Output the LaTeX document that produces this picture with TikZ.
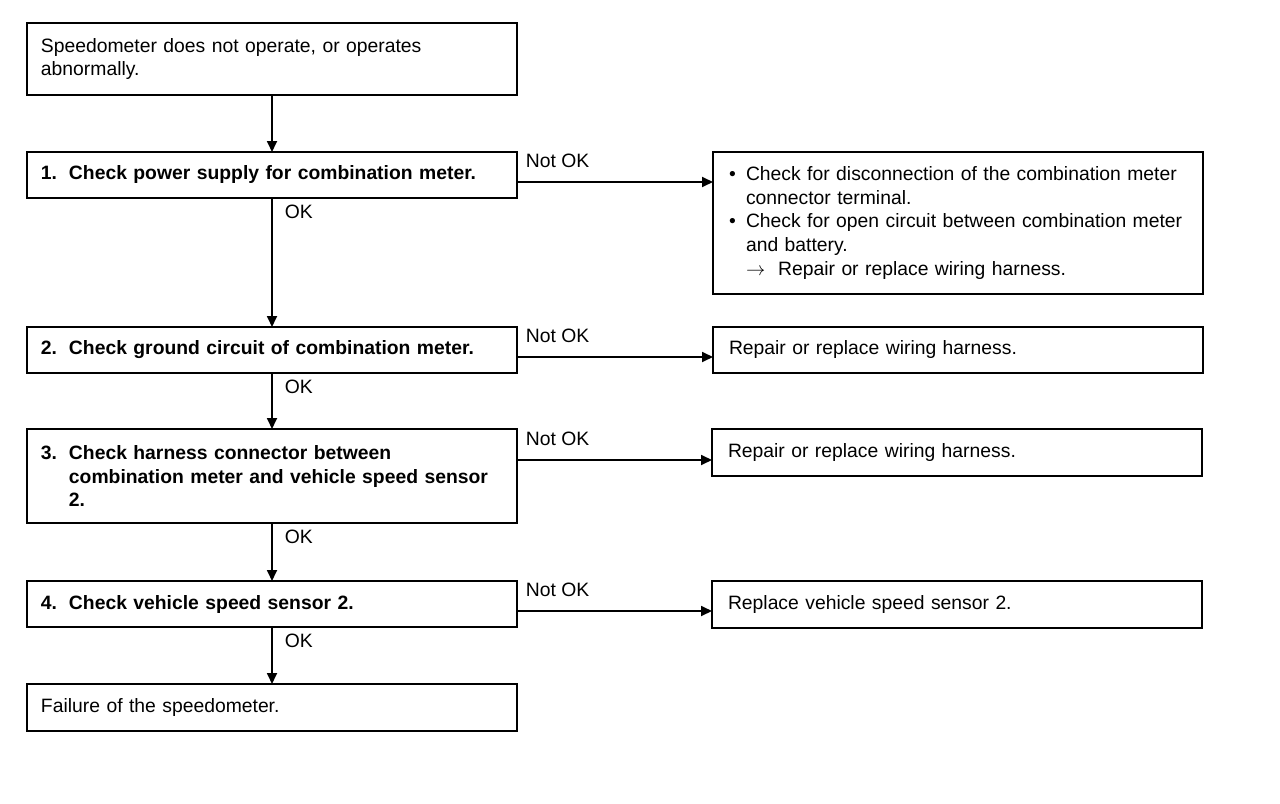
\documentclass[tikz,border=0pt]{standalone}
\usepackage{fontspec}
\setmainfont{Liberation Sans}
\usetikzlibrary{positioning, arrows.meta}
\tikzset{
  stepbox/.style={rectangle, draw, line width=1.1pt, outer sep=0pt, minimum width=9.8cm, text width=9.24cm, inner xsep=0.28cm, inner ysep=0pt, align=left, font=\fontsize{11}{13.6}\selectfont},
  fixbox/.style={stepbox, inner xsep=0.32cm, text width=9.16cm},
  arrow/.style={-{Triangle[length=0.22cm, width=0.2cm]}, line width=1pt},
}
\newcommand{\stepnum}[1]{\makebox[0.56cm][l]{#1}}
\newcommand{\fixitem}{\makebox[0.34cm][l]{\textbullet}}

\begin{document}
\begin{tikzpicture}[node distance=1.14cm, font=\fontsize{11}{13.6}\selectfont]
  \tikzset{
    oklabel/.style={anchor=north west, inner sep=0pt, xshift=0.24cm, yshift=-0.12cm},
    nolabel/.style={anchor=south west, inner sep=0pt, xshift=0.16cm, yshift=0.26cm},
  }
  \useasboundingbox (0,0) rectangle (25.6,-16.08);

  % Left column
  \node[stepbox, minimum height=1.44cm, anchor=north west] (start) at (0.54,-0.46) {Speedometer does not operate, or operates\\abnormally.};
  \node[stepbox, minimum height=0.92cm, below=of start, font=\fontsize{11}{13.6}\selectfont\bfseries] (chk1) {\stepnum{1.}Check power supply for combination meter.};
  \node[stepbox, minimum height=0.92cm, below=2.58cm of chk1, font=\fontsize{11}{13.6}\selectfont\bfseries] (chk2) {\stepnum{2.}Check ground circuit of combination meter.};
  \node[stepbox, minimum height=1.88cm, below=1.12cm of chk2, font=\fontsize{11}{13.6}\selectfont\bfseries] (chk3) {\stepnum{3.}Check harness connector between\\\hspace*{0.56cm}combination meter and vehicle speed sensor\\\hspace*{0.56cm}2.};
  \node[stepbox, minimum height=0.92cm, below=1.16cm of chk3, font=\fontsize{11}{13.6}\selectfont\bfseries] (chk4) {\stepnum{4.}Check vehicle speed sensor 2.};
  \node[stepbox, minimum height=0.94cm, below=of chk4] (fail) {Failure of the speedometer.};

  % Right column
  \node[fixbox, minimum height=2.84cm, right=3.92cm of chk1.north east, anchor=north west] (fix1) {\fixitem Check for disconnection of the combination meter\\\hspace*{0.34cm}connector terminal.\\\fixitem Check for open circuit between combination meter\\\hspace*{0.34cm}and battery.\\\hspace*{0.34cm}$\rightarrow$\ \ Repair or replace wiring harness.};
  \node[fixbox, minimum height=0.92cm, right=3.92cm of chk2.north east, anchor=north west] (fix2) {Repair or replace wiring harness.};
  \node[fixbox, minimum height=0.94cm, right=3.9cm of chk3.north east, anchor=north west] (fix3) {Repair or replace wiring harness.};
  \node[fixbox, minimum height=0.94cm, right=3.9cm of chk4.north east, anchor=north west] (fix4) {Replace vehicle speed sensor 2.};

  % OK arrows
  \draw[arrow] (start) -- (chk1);
  \draw[arrow] (chk1) -- node[oklabel, pos=0] {OK} (chk2);
  \draw[arrow] (chk2) -- node[oklabel, pos=0] {OK} (chk3);
  \draw[arrow] (chk3) -- node[oklabel, pos=0] {OK} (chk4);
  \draw[arrow] (chk4) -- node[oklabel, pos=0] {OK} (fail);

  % Not OK arrows
  \draw[arrow] ([yshift=-0.6cm]chk1.north east) -- node[nolabel, pos=0] {Not OK} ([yshift=-0.6cm]fix1.north west);
  \draw[arrow] ([yshift=-0.6cm]chk2.north east) -- node[nolabel, pos=0] {Not OK} ([yshift=-0.6cm]fix2.north west);
  \draw[arrow] ([yshift=-0.62cm]chk3.north east) -- node[nolabel, pos=0] {Not OK} ([yshift=-0.62cm]fix3.north west);
  \draw[arrow] ([yshift=-0.6cm]chk4.north east) -- node[nolabel, pos=0] {Not OK} ([yshift=-0.6cm]fix4.north west);

\end{tikzpicture}
\end{document}
